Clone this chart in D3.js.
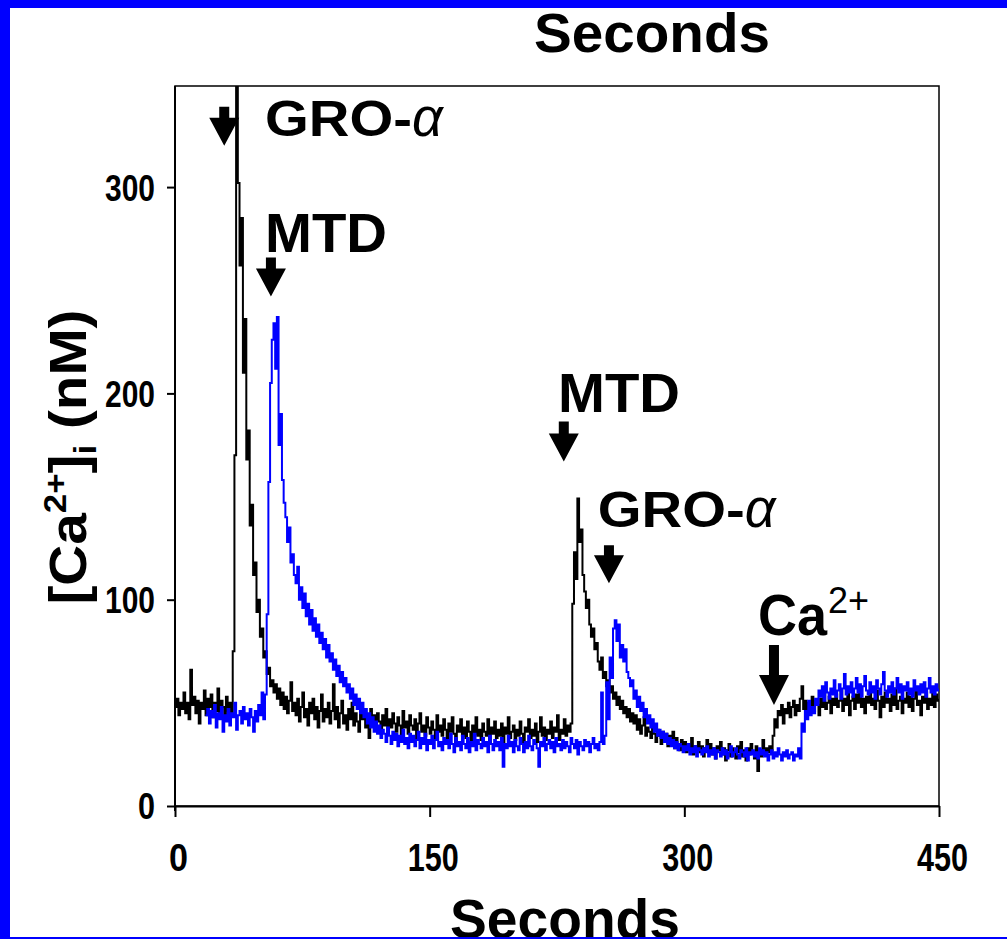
<!DOCTYPE html>
<html>
<head>
<meta charset="utf-8">
<script src="https://cdn.jsdelivr.net/npm/d3@7"></script>
<style>
  html, body { margin: 0; padding: 0; background: #fff; }
  svg { display: block; }
  text { font-family: "Liberation Sans", Arial, sans-serif; }
</style>
</head>
<body>
<svg id="chart" width="1007" height="939"></svg>
<script>
// Time axis (seconds) and [Ca2+]i axis (nM)
const xTicks = [0, 150, 300, 450];
const yTicks = [0, 100, 200, 300];

// Trace 1 (black): one reading per second starting at t = 0
const blackStart = 0;
const blackValues = [
  48, 52, 44, 50, 47, 55, 45, 50, 42, 66,
  49, 53, 45, 51, 40, 50, 47, 56, 44, 52,
  48, 54, 43, 50, 46, 57, 44, 51, 48, 42,
  53, 46, 50, 44, 75, 170, 395, 302, 262, 285,
  210, 236, 168, 182, 136, 146, 112, 118, 94, 100,
  82, 86, 72, 75, 64, 67, 58, 61, 55, 59,
  52, 57, 49, 55, 47, 53, 45, 51, 60, 46,
  50, 44, 52, 41, 48, 55, 43, 47, 39, 50,
  45, 52, 42, 48, 38, 46, 54, 41, 47, 43,
  50, 40, 46, 59, 42, 48, 38, 45, 51, 40,
  44, 37, 47, 42, 50, 39, 45, 41, 36, 48,
  42, 46, 38, 43, 33, 47, 40, 44, 37, 45,
  41, 36, 44, 39, 47, 35, 42, 38, 45, 40,
  36, 43, 39, 34, 46, 38, 41, 35, 44, 39,
  37, 42, 33, 40, 45, 36, 39, 34, 43, 38,
  35, 41, 37, 32, 44, 36, 39, 34, 42, 37,
  33, 40, 36, 43, 35, 31, 39, 36, 42, 34,
  38, 33, 41, 36, 30, 39, 35, 43, 34, 37,
  32, 40, 36, 34, 42, 31, 38, 35, 41, 33,
  37, 34, 40, 30, 38, 35, 43, 33, 36, 39,
  32, 37, 34, 41, 35, 30, 38, 36, 42, 33,
  37, 34, 40, 31, 36, 43, 34, 38, 32, 37,
  35, 41, 33, 38, 36, 44, 32, 37, 35, 42,
  34, 39, 36, 40, 98, 123, 110, 149, 128, 134,
  112, 104, 96, 100, 88, 82, 86, 76, 79, 70,
  66, 72, 62, 65, 58, 61, 55, 58, 52, 55,
  49, 53, 47, 51, 45, 48, 43, 47, 41, 45,
  40, 44, 37, 42, 35, 39, 43, 34, 38, 36,
  33, 39, 35, 31, 37, 34, 30, 36, 32, 35,
  29, 34, 31, 36, 28, 33, 30, 27, 32, 29,
  31, 26, 30, 28, 33, 25, 29, 27, 31, 26,
  29, 24, 28, 32, 26, 30, 25, 28, 23, 29,
  27, 31, 25, 28, 22, 27, 30, 24, 28, 26,
  23, 29, 26, 31, 24, 27, 22, 28, 25, 30,
  26, 23, 29, 17, 27, 24, 32, 25, 28, 26,
  29, 27, 34, 42, 38, 46, 44, 49, 40, 47,
  45, 50, 43, 48, 51, 44, 49, 46, 52, 58,
  47, 51, 45, 50, 48, 53, 46, 51, 49, 44,
  52, 48, 55, 47, 50, 53, 45, 52, 49, 54,
  48, 51, 56, 46, 52, 49, 55, 44, 51, 53,
  47, 54, 50, 57, 48, 52, 45, 53, 50, 55,
  49, 52, 47, 56, 51, 43, 53, 48, 55, 50,
  52, 46, 54, 49, 57, 47, 51, 53, 45, 52,
  50, 55, 48, 53, 46, 52, 56, 49, 51, 44,
  53, 50, 55, 47, 52, 49, 56, 48, 54, 51,
  52
];

// Trace 2 (blue): one reading per second starting at t = 18
const blueStart = 18;
const blueValues = [
  44, 47,
  40, 46, 43, 49, 38, 45, 42, 48, 36, 44,
  41, 47, 39, 45, 43, 50, 37, 44, 46, 40,
  48, 42, 45, 39, 47, 43, 36, 46, 41, 49,
  44, 55, 42, 54, 93, 157, 205, 226, 234, 212,
  237, 175, 190, 158, 147, 140, 128, 135, 118, 122,
  112, 108, 116, 100, 106, 96, 103, 92, 98, 88,
  95, 85, 91, 82, 88, 79, 84, 76, 81, 72,
  78, 70, 74, 66, 71, 63, 68, 60, 65, 58,
  62, 55, 59, 52, 57, 49, 54, 47, 52, 45,
  50, 43, 47, 40, 45, 38, 43, 36, 41, 35,
  39, 33, 37, 35, 31, 38, 34, 30, 36, 32,
  35, 29, 34, 31, 37, 30, 33, 28, 35, 31,
  34, 29, 32, 36, 28, 33, 30, 35, 27, 32,
  30, 34, 28, 32, 36, 29, 31, 27, 33, 30,
  32, 28, 35, 30, 26, 33, 29, 31, 27, 34,
  30, 28, 33, 26, 31, 29, 35, 27, 32, 30,
  28, 33, 29, 31, 26, 34, 30, 27, 32, 29,
  31, 27, 33, 19, 30, 28, 34, 29, 31, 26,
  32, 29, 27, 33, 30, 26, 31, 28, 34, 29,
  27, 32, 30, 28, 19, 31, 29, 33, 27, 30,
  32, 28, 31, 26, 33, 29, 30, 27, 32, 28,
  31, 29, 26, 33, 30, 28, 32, 25, 31, 29,
  27, 32, 29, 31, 26, 30, 33, 28, 30, 27,
  31, 55, 30, 34, 60, 42, 72, 62, 86, 90,
  80, 88, 72, 78, 70, 76, 65, 62, 58, 61,
  52, 56, 48, 53, 46, 50, 43, 47, 40, 44,
  38, 42, 36, 40, 34, 37, 33, 36, 31, 35,
  30, 33, 29, 32, 28, 31, 27, 30, 29, 26,
  29, 27, 30, 25, 28, 26, 29, 24, 28, 27,
  25, 28, 26, 29, 24, 27, 25, 28, 23, 27,
  26, 24, 28, 25, 27, 23, 26, 29, 24, 26,
  28, 25, 23, 27, 26, 24, 28, 22, 26, 25,
  27, 24, 26, 23, 28, 25, 27, 24, 26, 22,
  25, 27, 23, 26, 24, 28, 25, 22, 26, 24,
  27, 23, 25, 26, 22, 25, 24, 28, 23, 40,
  36, 46, 42, 51, 44, 48, 45, 52, 49, 56,
  53, 58, 51, 60, 55, 52, 57, 54, 61, 53,
  56, 59, 52, 57, 64, 54, 58, 55, 60, 53,
  57, 62, 55, 59, 53, 58, 63, 56, 54, 60,
  55, 58, 52, 61, 57, 54, 59, 65, 56, 53,
  58, 55, 60, 54, 57, 62, 55, 59, 52, 58,
  56, 60, 54, 57, 53, 61, 56, 58, 54, 59,
  55, 60, 53, 57, 62, 55, 58, 54, 59, 56,
  57
];

// Additions marked on the trace: time of addition, arrow tip level, arrow length (px)
const arrowTimes  = [29, 56.5, 229, 255.6, 352.8];
const arrowTips   = [320, 247, 167, 108, 49];
const arrowLength = [39, 39, 40, 38, 60];

// Agent names written next to the arrows: anchor time and baseline level
const labelNames  = ["GRO-", "MTD", "MTD", "GRO-", "Ca"];
const labelTimes  = [53, 53, 225.6, 249, 343.4];
const labelLevels = [325, 268.5, 191, 135, 83];

const svg = d3.select("#chart");
const W = 1007, H = 939;
const margin = { left: 175, right: 68, top: 86, bottom: 133 };

const x = d3.scaleLinear().domain([0, 450]).range([margin.left, W - margin.right]);
const y = d3.scaleLinear().domain([0, 349]).range([H - margin.bottom, margin.top]);

// page background
svg.append("rect").attr("x", 0).attr("y", 0).attr("width", W).attr("height", H).attr("fill", "#fff");

// frame (top and right sides)
svg.append("rect")
  .attr("x", x(0)).attr("y", y(349))
  .attr("width", x(450) - x(0)).attr("height", y(0) - y(349))
  .attr("fill", "none").attr("stroke", "#000").attr("stroke-width", 1.5);

// clip for the traces
svg.append("clipPath").attr("id", "plot-clip")
  .append("rect")
  .attr("x", x(0)).attr("y", y(349))
  .attr("width", x(450) - x(0)).attr("height", y(0) - y(349));

const toPoints = (start, vals) => vals.map((v, i) => ({ t: start + i, v }));
const blackPts = toPoints(blackStart, blackValues);
const bluePts = toPoints(blueStart, blueValues);

const line = d3.line()
  .x(d => x(d.t))
  .y(d => y(d.v))
  .curve(d3.curveStepAfter);

const traces = svg.append("g").attr("clip-path", "url(#plot-clip)");
traces.append("path").datum(blackPts)
  .attr("d", line).attr("fill", "none")
  .attr("stroke", "#000").attr("stroke-width", 2);
traces.append("path").datum(bluePts)
  .attr("d", line).attr("fill", "none")
  .attr("stroke", "#0000ff").attr("stroke-width", 2);

// axes
const yAxis = svg.append("g")
  .attr("transform", `translate(${x(0)},0)`)
  .call(d3.axisLeft(y).tickValues(yTicks).tickSize(8).tickSizeOuter(0).tickPadding(12));
yAxis.select(".domain").attr("stroke-width", 2).attr("d", `M0,${y(349)}V${y(0) + 5}`);
yAxis.selectAll(".tick line").attr("stroke-width", 2);
yAxis.selectAll(".tick text")
  .attr("font-family", "'Liberation Sans', Arial, sans-serif")
  .attr("font-size", 36).attr("font-weight", "bold").attr("fill", "#000")
  .attr("dy", "0.36em")
  .attr("textLength", d => String(d).length === 1 ? 17 : 50)
  .attr("lengthAdjust", "spacingAndGlyphs");

const xAxis = svg.append("g")
  .attr("transform", `translate(0,${y(0)})`)
  .call(d3.axisBottom(x).tickValues(xTicks).tickSize(11).tickSizeOuter(0));
xAxis.select(".domain").attr("stroke-width", 2);
xAxis.selectAll(".tick line").attr("stroke-width", 2);
xAxis.selectAll(".tick text")
  .attr("font-family", "'Liberation Sans', Arial, sans-serif")
  .attr("font-size", 38).attr("font-weight", "bold").attr("fill", "#000")
  .attr("y", 65).attr("dy", 0).attr("x", 3)
  .attr("textLength", d => String(d).length === 1 ? 19 : 51)
  .attr("lengthAdjust", "spacingAndGlyphs");

// axis titles
svg.append("text")
  .attr("x", 652).attr("y", 52)
  .attr("text-anchor", "middle")
  .attr("font-size", 56).attr("font-weight", "bold")
  .attr("textLength", 236).attr("lengthAdjust", "spacingAndGlyphs")
  .text("Seconds");

svg.append("text")
  .attr("x", 565).attr("y", 938)
  .attr("text-anchor", "middle")
  .attr("font-size", 56).attr("font-weight", "bold")
  .attr("textLength", 230).attr("lengthAdjust", "spacingAndGlyphs")
  .text("Seconds");

const yTitle = svg.append("text")
  .attr("transform", "translate(86,457) rotate(-90)")
  .attr("text-anchor", "middle")
  .attr("font-size", 52).attr("font-weight", "bold")
  .attr("textLength", 295).attr("lengthAdjust", "spacingAndGlyphs");
yTitle.append("tspan").text("[Ca");
yTitle.append("tspan").attr("font-size", 32).attr("dy", -20).text("2+");
yTitle.append("tspan").attr("dy", 20).text("]");
yTitle.append("tspan").attr("font-size", 32).attr("dy", 10).text("i");
yTitle.append("tspan").attr("dy", -10).text(" (nM)");

// arrows
const arrows = svg.append("g");
arrowTimes.forEach((t, i) => {
  const cx = x(t), tip = y(arrowTips[i]);
  const top = tip - arrowLength[i];
  const head = arrowLength[i] >= 50 ? 30 : 28;
  const neck = tip - head;
  const p = d3.path();
  p.moveTo(cx - 5, top);
  p.lineTo(cx + 5, top);
  p.lineTo(cx + 5, neck);
  p.lineTo(cx + 15, neck);
  p.lineTo(cx, tip);
  p.lineTo(cx - 15, neck);
  p.lineTo(cx - 5, neck);
  p.closePath();
  arrows.append("path").attr("d", p.toString()).attr("fill", "#000");
});

// labels
const labels = svg.append("g");
labelNames.forEach((name, i) => {
  const lx = x(labelTimes[i]), ly = y(labelLevels[i]);
  if (name === "GRO-") {
    labels.append("text")
      .attr("x", lx).attr("y", ly)
      .attr("font-size", 50).attr("font-weight", "bold")
      .attr("textLength", 147).attr("lengthAdjust", "spacingAndGlyphs")
      .text("GRO-");
    labels.append("text")
      .attr("x", lx + 147).attr("y", ly)
      .attr("font-family", "'Liberation Serif', 'DejaVu Serif', serif")
      .attr("font-size", 54).attr("font-style", "italic")
      .text("\u03b1");
  } else if (name === "MTD") {
    labels.append("text")
      .attr("x", lx).attr("y", ly)
      .attr("font-size", 56).attr("font-weight", "bold")
      .attr("textLength", 122).attr("lengthAdjust", "spacingAndGlyphs")
      .text("MTD");
  } else {
    labels.append("text")
      .attr("x", lx).attr("y", ly)
      .attr("font-size", 57).attr("font-weight", "bold")
      .attr("textLength", 69).attr("lengthAdjust", "spacingAndGlyphs")
      .text("Ca");
    labels.append("text")
      .attr("x", lx + 70).attr("y", ly - 22)
      .attr("font-size", 36)
      .text("2+");
  }
});

// blue border
svg.append("rect").attr("x", 0).attr("y", 0).attr("width", 10).attr("height", H).attr("fill", "#0000ff");
svg.append("rect").attr("x", 0).attr("y", 0).attr("width", W).attr("height", 8).attr("fill", "#0000ff");
svg.append("rect").attr("x", 0).attr("y", 937).attr("width", W).attr("height", 2).attr("fill", "#0000ff");
</script>
</body>
</html>
